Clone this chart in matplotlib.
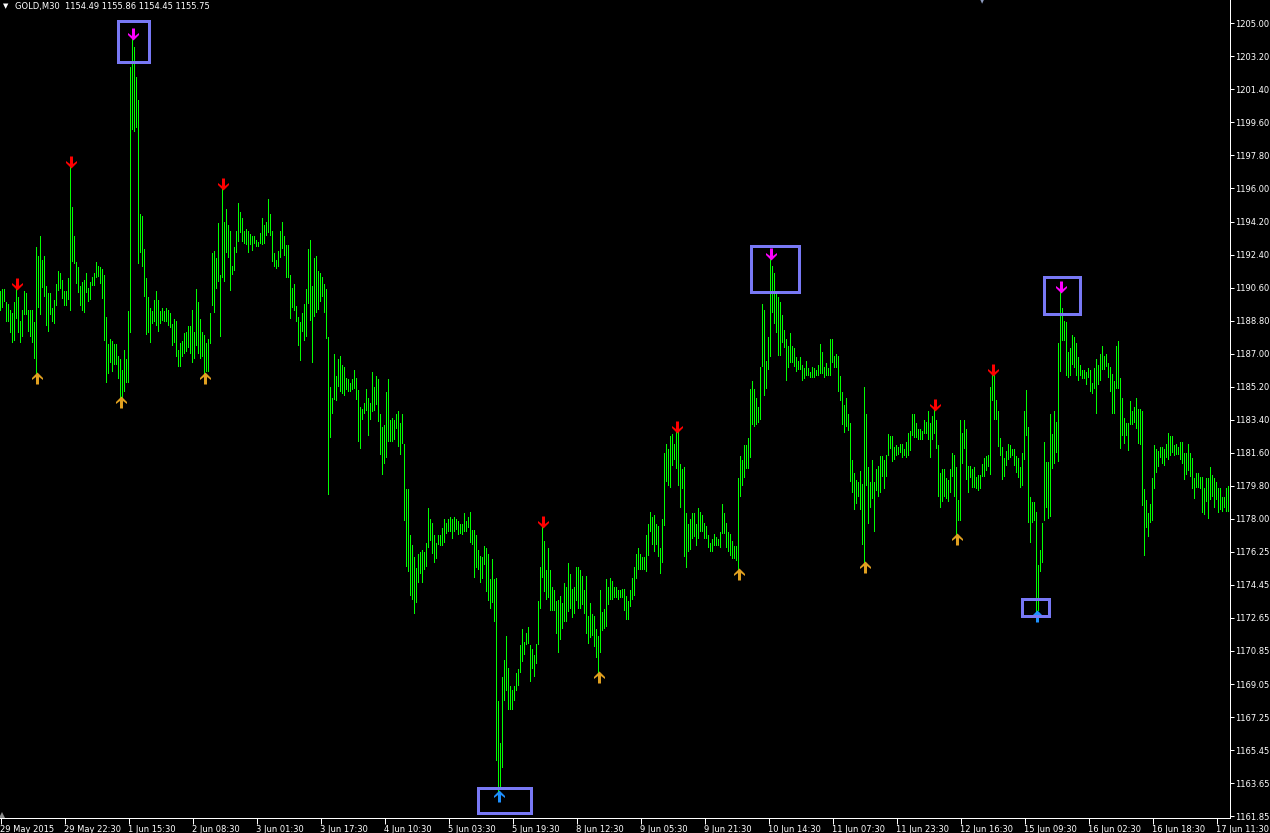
import numpy as np
import matplotlib
matplotlib.use('Agg')
import matplotlib.pyplot as plt
from matplotlib.path import Path
from matplotlib.patches import Rectangle

# GOLD M30 bars, one bar every 2 px, 10 bars per row
highs = [
    1190.4, 1190.5, 1190.5, 1189.8, 1189.7, 1189.4, 1189.2, 1189.8, 1190.6, 1190.1,
    1188.8, 1189.4, 1190.4, 1190.3, 1189.4, 1189.4, 1189.4, 1188.7, 1192.8, 1192.3,
    1193.4, 1192.1, 1192.3, 1190.7, 1190.3, 1190.3, 1189.5, 1189.9, 1190.8, 1191.5,
    1191.4, 1191.0, 1190.4, 1190.4, 1191.1, 1197.2, 1195.0, 1193.4, 1192.0, 1191.7,
    1190.7, 1190.9, 1191.0, 1191.4, 1190.6, 1190.9, 1191.2, 1191.4, 1192.0, 1191.8,
    1191.7, 1191.6, 1191.3, 1189.0, 1187.5, 1187.8, 1187.7, 1187.5, 1187.5, 1186.9,
    1186.7, 1186.1, 1187.2, 1186.7, 1189.3, 1202.6, 1204.2, 1203.7, 1202.1, 1200.8,
    1194.6, 1194.5, 1192.7, 1191.1, 1190.1, 1189.5, 1189.3, 1189.9, 1190.4, 1189.9,
    1189.3, 1189.5, 1189.3, 1189.5, 1189.4, 1189.2, 1188.6, 1188.9, 1188.8, 1187.2,
    1187.6, 1187.7, 1188.1, 1188.2, 1188.5, 1188.5, 1189.4, 1188.2, 1190.5, 1189.8,
    1188.9, 1188.2, 1188.0, 1187.6, 1187.8, 1189.2, 1192.5, 1192.6, 1192.2, 1194.1,
    1191.3, 1196.0, 1194.2, 1194.9, 1194.0, 1193.7, 1191.8, 1192.8, 1193.7, 1195.2,
    1194.7, 1194.4, 1193.7, 1193.8, 1193.7, 1193.5, 1193.4, 1193.4, 1193.2, 1193.1,
    1193.6, 1194.4, 1194.0, 1194.2, 1195.4, 1194.6, 1193.7, 1192.5, 1192.1, 1192.6,
    1193.7, 1194.2, 1193.4, 1192.9, 1192.9, 1191.3, 1190.6, 1190.8, 1189.6, 1189.0,
    1188.7, 1189.2, 1189.7, 1190.5, 1192.7, 1193.2, 1190.7, 1192.2, 1192.3, 1191.5,
    1191.4, 1191.2, 1190.8, 1190.5, 1187.9, 1185.2, 1184.6, 1187.0, 1185.8, 1186.7,
    1186.9, 1186.4, 1186.3, 1185.7, 1185.6, 1185.4, 1185.6, 1186.1, 1185.7, 1185.0,
    1184.1, 1184.0, 1184.3, 1185.1, 1184.6, 1184.3, 1186.0, 1185.2, 1185.8, 1185.6,
    1183.7, 1183.0, 1183.1, 1184.9, 1185.6, 1183.4, 1183.5, 1183.4, 1183.7, 1183.9,
    1183.2, 1183.7, 1182.1, 1179.6, 1179.6, 1177.1, 1176.6, 1175.9, 1175.3, 1176.1,
    1176.2, 1176.3, 1176.2, 1176.7, 1178.6, 1178.0, 1177.8, 1177.1, 1176.7, 1177.1,
    1177.1, 1177.5, 1178.0, 1177.8, 1178.0, 1178.1, 1178.0, 1178.1, 1178.0, 1177.9,
    1177.7, 1177.7, 1178.3, 1177.9, 1178.1, 1178.4, 1177.4, 1177.4, 1177.1, 1176.3,
    1176.0, 1175.9, 1176.5, 1176.4, 1176.1, 1174.7, 1175.8, 1174.7, 1174.8, 1168.1,
    1165.8, 1169.4, 1170.3, 1171.6, 1169.9, 1168.9, 1168.7, 1168.9, 1169.6, 1169.8,
    1171.1, 1172.0, 1171.3, 1171.8, 1172.1, 1171.1, 1170.9, 1170.6, 1171.2, 1173.5,
    1175.4, 1177.6, 1176.8, 1175.2, 1176.4, 1175.2, 1174.3, 1174.1, 1173.5, 1173.6,
    1173.8, 1173.4, 1174.5, 1174.3, 1175.6, 1175.0, 1174.2, 1174.3, 1175.4, 1175.4,
    1175.2, 1174.9, 1174.1, 1174.9, 1172.7, 1173.4, 1172.8, 1172.7, 1172.0, 1171.6,
    1174.1, 1172.9, 1173.1, 1174.7, 1174.3, 1174.8, 1174.6, 1174.3, 1174.3, 1174.1,
    1174.1, 1174.2, 1174.2, 1173.8, 1173.5, 1174.1, 1174.8, 1175.4, 1176.1, 1176.4,
    1176.1, 1175.9, 1175.9, 1177.1, 1177.7, 1178.4, 1178.1, 1178.2, 1177.7, 1177.6,
    1176.4, 1178.0, 1181.6, 1182.1, 1181.8, 1182.5, 1182.6, 1182.1, 1182.8, 1182.8,
    1181.0, 1180.7, 1180.8, 1178.3, 1177.7, 1178.0, 1178.3, 1178.3, 1177.7, 1178.6,
    1178.4, 1178.2, 1177.8, 1177.6, 1177.1, 1176.7, 1176.9, 1177.2, 1177.0, 1176.9,
    1177.3, 1178.8, 1178.3, 1177.8, 1177.3, 1177.2, 1176.8, 1176.5, 1176.5, 1180.2,
    1181.4, 1181.2, 1182.0, 1182.0, 1182.4, 1185.1, 1185.5, 1185.1, 1184.6, 1184.1,
    1186.3, 1189.7, 1189.4, 1186.6, 1187.9, 1192.2, 1191.8, 1191.4, 1190.3, 1190.1,
    1189.8, 1189.1, 1188.3, 1187.8, 1187.4, 1188.1, 1187.4, 1187.3, 1186.8, 1186.6,
    1186.8, 1186.4, 1186.2, 1186.6, 1186.2, 1186.0, 1186.3, 1186.2, 1186.1, 1186.4,
    1187.5, 1187.1, 1186.3, 1186.5, 1186.2, 1187.8, 1187.8, 1186.9, 1187.0, 1186.9,
    1185.8, 1184.9, 1184.2, 1184.6, 1183.7, 1183.2, 1181.2, 1180.5, 1180.1, 1180.0,
    1180.6, 1179.9, 1185.2, 1183.7, 1180.8, 1180.0, 1181.2, 1180.0, 1180.7, 1180.9,
    1181.4, 1181.4, 1181.2, 1181.5, 1182.6, 1182.5, 1182.5, 1181.9, 1182.0, 1181.9,
    1182.1, 1182.1, 1181.8, 1182.2, 1182.7, 1182.8, 1183.7, 1183.7, 1183.2, 1182.9,
    1182.9, 1182.8, 1183.4, 1183.3, 1183.9, 1183.2, 1183.6, 1184.0, 1183.4, 1182.0,
    1180.5, 1180.7, 1180.7, 1180.2, 1180.1, 1180.7, 1181.6, 1181.5, 1180.8, 1179.0,
    1183.4, 1182.7, 1183.4, 1182.9, 1180.9, 1180.9, 1180.7, 1180.8, 1180.3, 1180.4,
    1180.4, 1181.0, 1181.3, 1181.4, 1181.5, 1185.2, 1185.9, 1185.9, 1184.5, 1183.9,
    1182.4, 1181.9, 1181.3, 1181.7, 1182.1, 1182.0, 1181.8, 1181.8, 1181.4, 1181.3,
    1180.8, 1181.6, 1183.9, 1185.0, 1183.0, 1179.2, 1178.9, 1178.9, 1178.4, 1175.5,
    1176.3, 1177.8, 1182.2, 1181.1, 1181.1, 1183.7, 1182.6, 1183.9, 1183.3, 1187.6,
    1190.4, 1189.5, 1188.8, 1188.7, 1187.1, 1187.3, 1188.0, 1187.9, 1187.6, 1186.8,
    1186.4, 1186.1, 1186.1, 1186.0, 1186.2, 1186.1, 1185.4, 1186.2, 1186.7, 1186.4,
    1187.0, 1187.4, 1186.9, 1187.0, 1186.5, 1186.3, 1185.9, 1185.5, 1187.4, 1187.7,
    1185.7, 1184.6, 1183.5, 1183.2, 1183.2, 1184.4, 1183.9, 1184.1, 1184.6, 1184.0,
    1184.0, 1183.9, 1179.6, 1179.0, 1178.3, 1178.8, 1180.2, 1182.0, 1181.8, 1181.7,
    1181.9, 1181.9, 1181.8, 1182.1, 1182.7, 1182.5, 1182.5, 1182.0, 1182.1, 1181.9,
    1182.2, 1182.2, 1181.6, 1181.6, 1182.1, 1181.6, 1181.3, 1180.2, 1180.5, 1180.5,
    1180.3, 1180.3, 1179.7, 1180.2, 1180.2, 1180.8, 1180.4, 1180.2, 1180.0, 1179.7,
    1179.7, 1179.2, 1179.2, 1179.7, 1179.8,
]
lows = [
    1189.3, 1189.5, 1189.8, 1188.7, 1188.7, 1188.1, 1187.6, 1187.7, 1188.9, 1188.1,
    1187.6, 1187.9, 1189.1, 1189.1, 1188.2, 1187.9, 1187.6, 1186.7, 1185.9, 1189.5,
    1189.1, 1190.6, 1190.1, 1188.5, 1188.2, 1189.1, 1188.7, 1188.6, 1189.6, 1190.4,
    1190.5, 1190.0, 1189.6, 1189.6, 1189.9, 1189.3, 1192.0, 1191.9, 1190.8, 1190.3,
    1189.6, 1189.3, 1189.2, 1190.3, 1189.8, 1189.9, 1190.7, 1190.7, 1191.1, 1191.2,
    1190.8, 1190.0, 1187.7, 1185.4, 1185.9, 1186.5, 1186.0, 1186.4, 1186.4, 1185.6,
    1184.6, 1184.6, 1184.9, 1185.4, 1185.4, 1188.1, 1199.2, 1199.1, 1199.3, 1191.9,
    1192.5, 1191.7, 1190.1, 1188.0, 1188.1, 1187.6, 1188.6, 1188.7, 1188.5, 1188.2,
    1188.6, 1188.8, 1188.7, 1188.7, 1188.5, 1188.4, 1187.4, 1187.6, 1186.8, 1186.3,
    1186.3, 1186.8, 1187.0, 1187.1, 1187.3, 1187.0, 1186.5, 1186.7, 1187.4, 1187.0,
    1186.7, 1186.8, 1185.9, 1186.0, 1186.0, 1187.5, 1189.6, 1189.2, 1190.5, 1190.9,
    1187.9, 1191.1, 1190.9, 1192.5, 1192.2, 1190.4, 1191.3, 1191.5, 1192.5, 1193.1,
    1193.6, 1193.1, 1193.0, 1192.9, 1192.5, 1192.9, 1192.6, 1193.0, 1192.8, 1192.8,
    1193.0, 1192.9, 1193.0, 1193.4, 1193.6, 1193.4, 1192.0, 1191.7, 1191.6, 1191.7,
    1192.2, 1192.7, 1192.3, 1191.1, 1191.1, 1188.9, 1189.5, 1189.3, 1188.7, 1187.4,
    1186.6, 1188.2, 1187.7, 1187.9, 1189.7, 1188.8, 1186.5, 1189.0, 1189.2, 1189.4,
    1189.8, 1190.1, 1189.2, 1187.8, 1179.3, 1182.4, 1183.7, 1184.5, 1184.4, 1185.2,
    1184.9, 1184.8, 1184.7, 1185.0, 1184.9, 1184.9, 1185.0, 1185.1, 1184.5, 1182.2,
    1181.8, 1183.4, 1183.7, 1183.9, 1182.5, 1183.4, 1183.8, 1183.9, 1184.2, 1183.3,
    1181.5, 1180.4, 1181.0, 1181.3, 1182.2, 1182.2, 1182.2, 1182.3, 1182.9, 1181.9,
    1181.5, 1182.1, 1177.9, 1175.4, 1175.1, 1173.8, 1173.6, 1172.8, 1173.4, 1174.5,
    1175.0, 1174.5, 1175.2, 1175.4, 1176.4, 1176.8, 1176.1, 1175.6, 1175.8, 1176.6,
    1176.5, 1176.5, 1176.7, 1177.2, 1177.3, 1177.3, 1176.9, 1177.3, 1177.4, 1177.1,
    1177.2, 1177.1, 1177.3, 1177.3, 1177.5, 1176.7, 1176.6, 1174.8, 1175.3, 1175.2,
    1174.5, 1174.7, 1175.5, 1174.0, 1173.5, 1173.1, 1173.4, 1172.4, 1164.8, 1163.1,
    1163.4, 1164.4, 1168.1, 1168.6, 1167.6, 1167.6, 1167.6, 1168.1, 1168.6, 1168.9,
    1169.6, 1170.2, 1170.6, 1171.1, 1171.2, 1169.1, 1169.8, 1169.4, 1170.1, 1171.1,
    1173.1, 1174.8, 1174.0, 1173.6, 1173.7, 1173.0, 1173.0, 1173.0, 1171.7, 1170.7,
    1171.4, 1172.0, 1172.4, 1172.4, 1172.9, 1173.1, 1172.6, 1172.8, 1173.5, 1173.1,
    1173.1, 1173.3, 1172.8, 1171.7, 1171.2, 1171.5, 1171.6, 1171.0, 1170.4, 1169.6,
    1170.7, 1171.9, 1172.0, 1172.1, 1173.3, 1173.6, 1173.6, 1173.7, 1173.7, 1173.6,
    1173.7, 1173.7, 1173.0, 1172.5, 1172.5, 1173.2, 1173.6, 1173.8, 1174.7, 1175.2,
    1175.2, 1175.2, 1175.2, 1175.1, 1176.0, 1177.3, 1176.6, 1176.2, 1176.6, 1175.9,
    1175.0, 1175.6, 1177.6, 1180.0, 1179.8, 1179.7, 1180.9, 1181.2, 1180.7, 1179.8,
    1178.6, 1179.6, 1175.9, 1175.3, 1176.2, 1176.3, 1176.9, 1177.0, 1176.5, 1176.9,
    1177.3, 1177.3, 1176.9, 1176.9, 1176.4, 1176.2, 1176.2, 1176.5, 1176.5, 1176.5,
    1176.4, 1177.2, 1177.2, 1176.4, 1176.2, 1176.0, 1175.8, 1175.8, 1175.7, 1175.2,
    1179.2, 1179.8, 1180.2, 1180.7, 1180.7, 1181.3, 1183.1, 1183.0, 1183.1, 1183.2,
    1183.4, 1186.3, 1184.7, 1185.1, 1186.1, 1186.8, 1189.2, 1188.6, 1188.1, 1186.9,
    1186.9, 1187.6, 1187.3, 1185.5, 1186.2, 1186.5, 1186.5, 1186.3, 1186.0, 1186.1,
    1186.1, 1185.5, 1185.6, 1185.8, 1185.8, 1185.7, 1185.7, 1185.7, 1185.8, 1185.8,
    1185.9, 1185.9, 1185.7, 1185.8, 1185.8, 1185.8, 1186.5, 1186.2, 1186.2, 1184.9,
    1184.4, 1183.1, 1182.7, 1183.0, 1182.8, 1180.0, 1179.4, 1178.5, 1178.8, 1179.2,
    1178.5, 1176.6, 1175.6, 1179.8, 1177.7, 1178.6, 1179.1, 1177.3, 1179.5, 1179.2,
    1179.4, 1180.3, 1179.6, 1180.3, 1181.4, 1181.8, 1181.1, 1181.2, 1181.4, 1181.5,
    1181.6, 1181.3, 1181.4, 1181.3, 1181.4, 1181.7, 1182.5, 1182.4, 1182.4, 1182.3,
    1182.3, 1182.3, 1182.6, 1182.6, 1182.3, 1181.3, 1182.3, 1182.6, 1181.8, 1179.2,
    1178.6, 1178.9, 1179.2, 1179.1, 1178.9, 1179.4, 1180.3, 1179.2, 1177.1, 1177.9,
    1177.9, 1181.0, 1181.8, 1180.1, 1179.4, 1180.2, 1179.7, 1179.7, 1179.6, 1179.5,
    1179.6, 1180.3, 1180.3, 1180.6, 1180.8, 1180.4, 1184.4, 1183.4, 1183.4, 1181.9,
    1181.4, 1180.1, 1180.3, 1180.9, 1181.2, 1181.3, 1181.4, 1180.9, 1180.5, 1180.2,
    1179.7, 1179.8, 1181.2, 1182.5, 1177.8, 1176.7, 1177.8, 1177.9, 1172.9, 1173.0,
    1175.1, 1175.6, 1177.9, 1178.6, 1178.0, 1178.1, 1180.7, 1181.0, 1181.6, 1181.1,
    1186.0, 1187.7, 1187.7, 1185.8, 1185.7, 1185.8, 1186.4, 1186.2, 1185.8, 1185.5,
    1185.8, 1185.6, 1185.6, 1185.3, 1185.7, 1184.9, 1184.8, 1185.1, 1183.7, 1185.3,
    1185.5, 1186.1, 1186.1, 1186.3, 1185.7, 1184.9, 1183.7, 1183.7, 1185.1, 1185.1,
    1181.8, 1182.5, 1182.1, 1182.5, 1181.7, 1183.1, 1183.1, 1183.2, 1182.9, 1182.1,
    1182.0, 1178.7, 1176.0, 1177.5, 1177.0, 1177.8, 1177.9, 1179.6, 1180.5, 1180.8,
    1181.3, 1181.0, 1180.9, 1181.3, 1181.2, 1181.4, 1181.6, 1181.4, 1181.5, 1181.5,
    1181.2, 1181.0, 1180.1, 1180.4, 1180.6, 1180.3, 1179.6, 1179.1, 1179.7, 1179.7,
    1179.6, 1178.3, 1178.2, 1178.9, 1178.0, 1179.0, 1179.2, 1178.6, 1179.0, 1178.3,
    1178.5, 1178.4, 1178.6, 1178.4, 1178.4,
]

# indicator arrows (bar numbers)
down_red = [8, 35, 111, 271, 338, 467, 496]
down_magenta = [66, 385, 530]
up_orange = [18, 60, 102, 299, 369, 432, 478]
up_blue = [249, 518]

# highlighted zones: bar range and price range
box_left = [58.5, 375.2, 521.6, 238.5, 510.5]
box_right = [74.0, 399.0, 539.8, 265.3, 524.0]
box_top = [1205.10, 1192.89, 1191.20, 1163.36, 1173.64]
box_bottom = [1202.90, 1190.37, 1189.15, 1161.96, 1172.69]

time_labels = ['29 May 2015', '29 May 22:30', '1 Jun 15:30', '2 Jun 08:30', '3 Jun 01:30',
               '3 Jun 17:30', '4 Jun 10:30', '5 Jun 03:30', '5 Jun 19:30', '8 Jun 12:30',
               '9 Jun 05:30', '9 Jun 21:30', '10 Jun 14:30', '11 Jun 07:30', '11 Jun 23:30',
               '12 Jun 16:30', '15 Jun 09:30', '16 Jun 02:30', '16 Jun 18:30', '17 Jun 11:30']
price_labels = ['1205.00', '1203.20', '1201.40', '1199.60', '1197.80', '1196.00', '1194.20',
                '1192.40', '1190.60', '1188.80', '1187.00', '1185.20', '1183.40', '1181.60',
                '1179.80', '1178.00', '1176.25', '1174.45', '1172.65', '1170.85', '1169.05',
                '1167.25', '1165.45', '1163.65', '1161.85']

W, H = 1270, 833
fig = plt.figure(figsize=(W / 100, H / 100), dpi=100, facecolor='black')
ax = fig.add_axes([0, 15 / H, 1230 / W, 818 / H])
ax.set_facecolor('black')

n = len(highs)
x = np.arange(n)
hi = np.array(highs)
lo = np.array(lows)
# each bar is a 1 px wide green column (half a bar slot)
ax.bar(x, hi - lo, bottom=lo, width=0.5, color='#00FF00', linewidth=0, zorder=2)

# arrow marker, units = pixels, tip slightly inside the bar
arrow = [(0, -2), (5.5, 3.5), (5.5, 5.5), (1.5, 2.5), (1.5, 10), (-1.5, 10),
         (-1.5, 2.5), (-5.5, 5.5), (-5.5, 3.5), (0, -2)]
down_mk = Path(arrow, closed=True)
up_mk = Path([(a, -b) for a, b in arrow], closed=True)

for idx, col in [(down_red, '#FF0000'), (down_magenta, '#FF00FF')]:
    ax.plot(idx, hi[idx], ls='none', marker=down_mk, ms=14.4,
            color=col, mew=0, zorder=4)
for idx, col in [(up_orange, '#E0A020'), (up_blue, '#1E90FF')]:
    ax.plot(idx, lo[idx], ls='none', marker=up_mk, ms=14.4,
            color=col, mew=0, zorder=4)

for l, r, t, b in zip(box_left, box_right, box_top, box_bottom):
    ax.add_patch(Rectangle((l, b), r - l, t - b, fill=False, edgecolor='#7878F5',
                           linewidth=2.16, joinstyle='miter', zorder=5, clip_on=False))

ax.set_xlim(-0.25, n - 0.25)
ax.set_ylim(1161.70, 1206.27)

ax.set_xticks(np.arange(0, n, 32))
ax.set_xticklabels(time_labels)
for lbl in ax.get_xticklabels():
    lbl.set_ha('left')
ax.yaxis.tick_right()
ax.set_yticks(np.linspace(1205.0, 1161.8, 25))
ax.set_yticklabels(price_labels)

ax.tick_params(axis='x', colors='white', labelsize=6, length=4, width=0.72, pad=1)
ax.tick_params(axis='y', colors='white', labelsize=6, length=3, width=0.72, pad=1)
for s in ['top', 'left']:
    ax.spines[s].set_visible(False)
for s in ['right', 'bottom']:
    ax.spines[s].set_color('white')
    ax.spines[s].set_linewidth(0.72)

# small grey shift marker in the lower left corner
ax.plot([0.002], [0.004], marker='^', ms=4, color='#8A8A8A', mew=0,
        transform=ax.transAxes, clip_on=False, zorder=6)

fig.text(3 / W, 1 - 6 / H, '▼', color='white', fontsize=5, va='center', ha='left')
fig.text(15 / W, 1 - 6 / H, 'GOLD,M30  1154.49 1155.86 1154.45 1155.75', color='white',
         fontsize=6, va='center', ha='left')
fig.text(982 / W, 1 - 2 / H, '▼', color='#8E9CC0', fontsize=4, va='center', ha='center')

fig.savefig('out.png', dpi=100, facecolor='black')
